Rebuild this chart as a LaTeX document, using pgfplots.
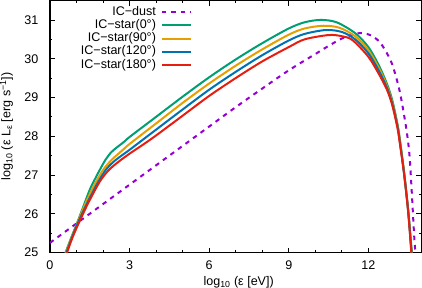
\documentclass[border=0pt]{standalone}
\usepackage{fontspec}
\setmainfont{Liberation Sans}
\usepackage{pgfplots}
\pgfplotsset{compat=1.18}
\definecolor{cdust}{HTML}{9400D3}
\definecolor{cgreen}{HTML}{009E73}
\definecolor{corange}{HTML}{E69F00}
\definecolor{cblue}{HTML}{0072B2}
\definecolor{cred}{HTML}{E51E10}
\newcommand{\fs}{\fontsize{12.5}{15}\selectfont}
\begin{document}
\begin{tikzpicture}
\begin{axis}[
 scale only axis, width=370.5pt, height=251.3pt,
 xmin=0, xmax=14, ymin=25, ymax=31.5,
 xtick={0,3,6,9,12}, minor x tick num=2,
 ytick={25,26,27,28,29,30,31}, minor y tick num=1,
 tick align=inside, xtick pos=both, ytick pos=both,
 major tick length=5pt, minor tick length=2.5pt,
 every tick/.style={black, line width=0.7pt},
 axis line style={line width=1.1pt},
 /pgf/number format/assume math mode=true,
 tick label style={font=\fs},
 yticklabel style={xshift=-8pt},
 xticklabel style={yshift=-5pt},
 label style={font=\fs},
 xlabel={log\textsubscript{10} (ε [eV])},
 ylabel={log\textsubscript{10} (ε L\textsubscript{ε} [erg s\textsuperscript{−1}])},
 xlabel style={at={(axis description cs:0.508,-0.130)}, anchor=base, inner sep=0pt},
 ylabel style={at={(axis description cs:-0.135,0.5)}, anchor=north, inner sep=0pt},
 legend style={at={(axis description cs:0.383,0.981)}, anchor=north east, draw=none, fill=none, font=\fs, inner sep=0pt, row sep=0pt, column sep=4pt, nodes={inner sep=1pt, text height=8.7pt, text depth=2.5pt}},
 legend cell align=right, legend plot pos=right,
 legend image code/.code={\draw[#1] (0pt,0pt) -- (29pt,0pt);},
]
\addplot[cdust, line width=2pt, dash pattern=on 4.5pt off 4.8pt, smooth] coordinates {
(0,25.25) (1,25.75) (2,26.25) (3,26.75) (4,27.25) (5,27.75) (6,28.25) (7,28.75) (8,29.23) (9,29.7) (10,30.12) (10.5,30.33) (11,30.52) (11.5,30.64) (11.8,30.66) (12.1,30.6) (12.4,30.45) (12.65,30.2) (12.9,29.85) (13.15,29.25) (13.32,28.65) (13.46,28.05) (13.55,27.5) (13.64,26.5) (13.72,25.5) (13.8,24.7)};
\addlegendentry{IC−dust}
\addplot[cgreen, line width=2pt, smooth] coordinates {
(0.55,24.93) (0.8,25.38) (1.0,25.72) (1.25,26.17) (1.5,26.62) (1.7,26.9) (1.9,27.16) (2.1,27.4) (2.3,27.58) (2.5,27.7) (2.8,27.86) (3,27.98) (4,28.5) (5,29.02) (6,29.52) (7,29.98) (8,30.4) (9,30.78) (9.6,30.94) (10.2,31.0) (10.8,30.94) (11.5,30.66) (12,30.3) (12.4,29.82) (12.7,29.35) (12.9,28.93) (13.1,28.3) (13.2,27.85) (13.35,27.05) (13.5,26.1) (13.64,25.0) (13.68,24.7)};
\addlegendentry{IC−star(0°)}
\addplot[corange, line width=2pt, smooth] coordinates {
(0.57,24.93) (0.8,25.36) (1.0,25.7) (1.25,26.13) (1.57,26.61) (1.8,26.9) (2.0,27.13) (2.2,27.3) (2.4,27.44) (2.6,27.56) (2.8,27.68) (3,27.8) (4,28.33) (5,28.86) (6,29.36) (7,29.82) (8,30.24) (9,30.62) (9.6,30.78) (10.3,30.85) (10.9,30.8) (11.5,30.58) (12,30.22) (12.4,29.75) (12.7,29.3) (12.9,28.88) (13.1,28.27) (13.2,27.82) (13.35,27.03) (13.5,26.08) (13.63,25.0) (13.67,24.7)};
\addlegendentry{IC−star(90°)}
\addplot[cblue, line width=2pt, smooth] coordinates {
(0.59,24.93) (0.8,25.33) (1.0,25.68) (1.3,26.13) (1.65,26.61) (1.85,26.86) (2.1,27.13) (2.3,27.28) (2.5,27.4) (2.8,27.55) (3,27.65) (4,28.17) (5,28.69) (6,29.2) (7,29.66) (8,30.09) (9,30.47) (9.6,30.64) (10.4,30.74) (11,30.69) (11.5,30.5) (12,30.14) (12.4,29.68) (12.7,29.25) (12.9,28.84) (13.1,28.24) (13.2,27.78) (13.35,27.01) (13.5,26.06) (13.625,25.0) (13.665,24.7)};
\addlegendentry{IC−star(120°)}
\addplot[cred, line width=2pt, smooth] coordinates {
(0.61,24.93) (0.8,25.3) (1.0,25.63) (1.4,26.22) (1.8,26.74) (2.0,26.95) (2.25,27.15) (2.6,27.35) (3.0,27.55) (3.5,27.78) (4,28.02) (5,28.53) (6,29.04) (7,29.5) (8,29.93) (9,30.3) (9.6,30.5) (10.5,30.61) (11,30.58) (11.4,30.48) (12,30.05) (12.4,29.6) (12.7,29.2) (12.9,28.8) (13.1,28.2) (13.2,27.75) (13.35,27.0) (13.5,26.05) (13.62,25.0) (13.66,24.7)};
\addlegendentry{IC−star(180°)}
\end{axis}
\end{tikzpicture}
\end{document}
